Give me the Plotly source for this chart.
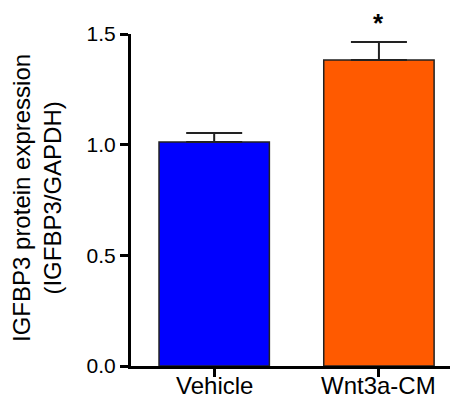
import plotly.graph_objects as go

categories = ["Vehicle", "Wnt3a-CM"]
means = [1.012, 1.383]
sem_upper = [0.041, 0.081]
bar_colors = ["#0000FF", "#FF5A00"]
y_ticks = [0.0, 0.5, 1.0, 1.5]
y_tick_labels = ["0.0", "0.5", "1.0", "1.5"]
signif = ["", "*"]

FONT = "Liberation Sans, Arial"

fig = go.Figure()
fig.add_trace(go.Bar(
    x=[0, 1], y=means,
    width=0.67,
    marker=dict(color=bar_colors, line=dict(color="#222222", width=1.5)),
    error_y=dict(type="data", array=sem_upper, arrayminus=[0, 0], symmetric=False,
                 color="#222222", thickness=2, width=28),
    showlegend=False,
))

for i, s in enumerate(signif):
    if s:
        fig.add_annotation(x=i, y=means[i] + sem_upper[i], text="<b>" + s + "</b>", showarrow=False,
                           yanchor="bottom", yshift=2,
                           font=dict(size=26, color="black", family=FONT))

for i, c in enumerate(categories):
    fig.add_annotation(x=i, xref="x", yref="paper", y=-0.012, text=c, showarrow=False,
                       xanchor="center", yanchor="top",
                       font=dict(size=24, color="black", family=FONT))

fig.add_annotation(xref="paper", yref="paper", x=-0.2875, y=0.506,
                   text="IGFBP3 protein expression<br>(IGFBP3/GAPDH)",
                   textangle=-90, showarrow=False, xanchor="center", yanchor="middle",
                   font=dict(size=24, color="black", family=FONT))

# page body has an 8px margin; size figure so the plot lands where the reference has it
fig.update_layout(
    width=450, height=392,
    margin=dict(l=123, r=0, t=26, b=34),
    paper_bgcolor="white", plot_bgcolor="white",
    font=dict(family=FONT, color="black", size=22),
    xaxis=dict(range=[-0.505, 1.48], tickvals=[0, 1], ticktext=["", ""],
               showline=True, linecolor="black", linewidth=3,
               ticks="outside", ticklen=8, tickwidth=2.5, tickcolor="black",
               showgrid=False, zeroline=False, fixedrange=True, automargin=False),
    yaxis=dict(range=[0, 1.5], tickvals=y_ticks, ticktext=y_tick_labels,
               tickfont=dict(size=21),
               showline=True, linecolor="black", linewidth=3,
               ticks="outside", ticklen=8, tickwidth=2.5, tickcolor="black",
               showgrid=False, zeroline=False, fixedrange=True, automargin=False),
)

fig.write_html("out.html")
